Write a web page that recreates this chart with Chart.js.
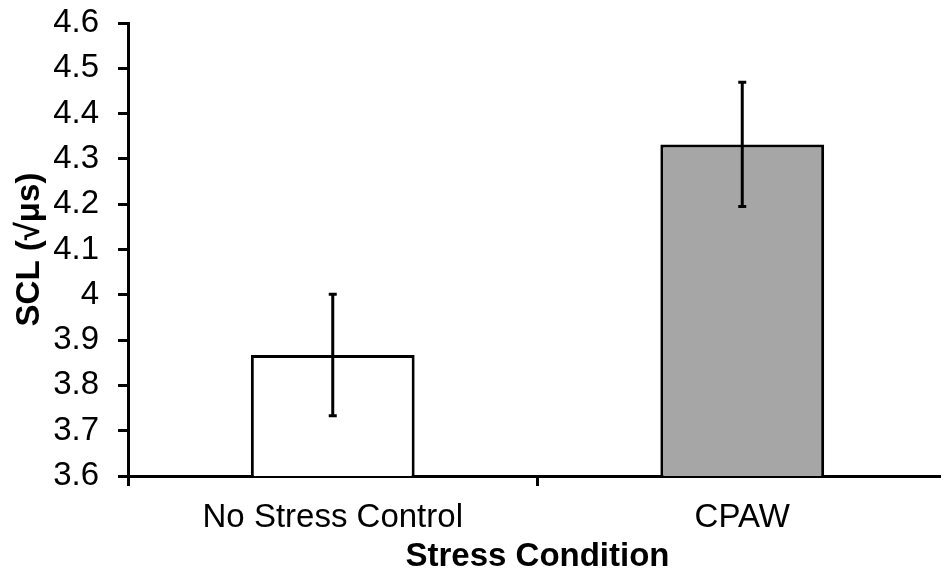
<!DOCTYPE html>
<html>
<head>
<meta charset="utf-8">
<script src="https://cdn.jsdelivr.net/npm/chart.js@4"></script>
<style>
  html, body { margin: 0; padding: 0; background: #fff; overflow: hidden; }
  #wrap { width: 947px; height: 573px; }
</style>
</head>
<body>
<div id="wrap"><canvas id="sclChart"></canvas></div>
<script>
// data
const conditions = ['No Stress Control', 'CPAW'];
const meanSCL = [3.867, 4.332];
const errSCL = [0.134, 0.137];
const barColors = ['#ffffff', '#a6a6a6'];
const yTicks = [3.6, 3.7, 3.8, 3.9, 4.0, 4.1, 4.2, 4.3, 4.4, 4.5, 4.6];
const yTickLabels = ['3.6', '3.7', '3.8', '3.9', '4', '4.1', '4.2', '4.3', '4.4', '4.5', '4.6'];

const fontFamily = "'Liberation Sans', Arial, sans-serif";

// error bars drawn through the y scale
const errorBars = {
    id: 'errorBars',
    afterDatasetsDraw(chart) {
        const ctx = chart.ctx;
        const y = chart.scales.y;
        const meta = chart.getDatasetMeta(0);
        ctx.save();
        ctx.strokeStyle = '#000';
        ctx.lineWidth = 3;
        meta.data.forEach((bar, i) => {
            const top = y.getPixelForValue(meanSCL[i] + errSCL[i]);
            const bot = y.getPixelForValue(meanSCL[i] - errSCL[i]);
            const x = bar.x;
            ctx.beginPath();
            ctx.moveTo(x, top);
            ctx.lineTo(x, bot);
            ctx.moveTo(x - 4, top);
            ctx.lineTo(x + 4, top);
            ctx.moveTo(x - 4, bot);
            ctx.lineTo(x + 4, bot);
            ctx.stroke();
        });
        ctx.restore();
    }
};

const ctx = document.getElementById('sclChart').getContext('2d');

const sclChart = new Chart(ctx, {
    type: 'bar',
    data: {
        labels: conditions,
        datasets: [{
            data: meanSCL,
            backgroundColor: barColors,
            borderColor: '#000',
            borderWidth: 3,
            borderSkipped: false,
            barPercentage: 0.4,
            categoryPercentage: 1.0
        }]
    },
    options: {
        responsive: true,
        maintainAspectRatio: false,
        animation: false,
        layout: { padding: { top: 23, right: 0, left: 0, bottom: 0 } },
        plugins: {
            legend: { display: false },
            tooltip: { enabled: false }
        },
        scales: {
            y: {
                min: 3.6,
                max: 4.6,
                afterBuildTicks: function(scale) {
                    scale.ticks = yTicks.map(v => ({ value: v }));
                },
                afterFit: function(scale) {
                    scale.width = 128;
                    scale.paddingTop = 0;
                    scale.paddingBottom = 0;
                },
                ticks: {
                    color: '#000',
                    padding: 19,
                    font: { family: fontFamily, size: 33 },
                    callback: function(value) {
                        const i = yTicks.findIndex(v => Math.abs(v - value) < 1e-6);
                        return i >= 0 ? yTickLabels[i] : '';
                    }
                },
                grid: {
                    drawOnChartArea: false,
                    color: '#000',
                    tickLength: 10,
                    tickWidth: 3
                },
                border: { color: '#000', width: 3 },
                title: {
                    display: true,
                    text: 'SCL (√μs)',
                    color: '#000',
                    padding: { top: 13, bottom: 0 },
                    font: { family: fontFamily, size: 33, weight: 'bold', lineHeight: 1 }
                }
            },
            x: {
                afterFit: function(scale) {
                    scale.height = 97;
                    scale.paddingLeft = 0;
                    scale.paddingRight = 0;
                },
                ticks: {
                    color: '#000',
                    padding: 12,
                    font: { family: fontFamily, size: 33 }
                },
                grid: {
                    drawOnChartArea: false,
                    color: '#000',
                    tickLength: 10,
                    tickWidth: 3
                },
                border: { color: '#000', width: 3 },
                title: {
                    display: true,
                    text: 'Stress Condition',
                    color: '#000',
                    padding: { top: 0, bottom: 0 },
                    font: { family: fontFamily, size: 33, weight: 'bold', lineHeight: 1 }
                }
            }
        }
    },
    plugins: [errorBars]
});
</script>
</body>
</html>
